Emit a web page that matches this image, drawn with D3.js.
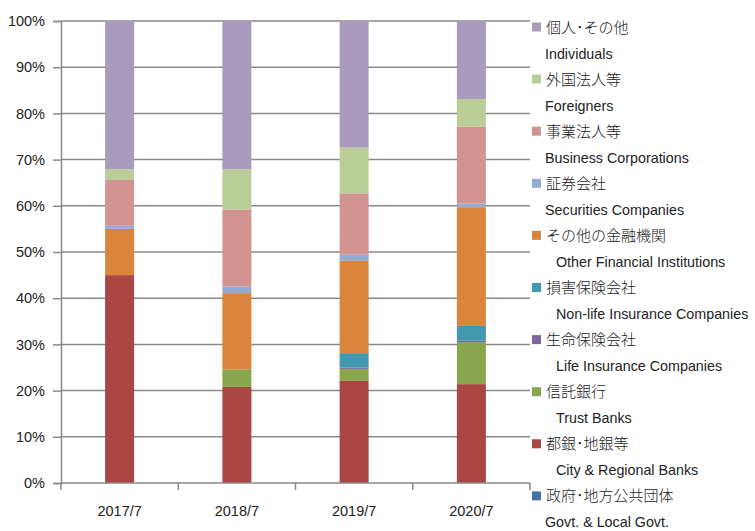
<!DOCTYPE html>
<html>
<head>
<meta charset="utf-8">
<script src="https://cdn.jsdelivr.net/npm/d3@7"></script>
<style>
  body { margin: 0; background: #fff; }
  svg { display: block; }
  text { fill: #222; }
</style>
</head>
<body>
<script>
// data (percent of shares)
var categories = ["2017/7", "2018/7", "2019/7", "2020/7"];
var govt        = [0, 0, 0, 0];
var cityBanks   = [45.0, 20.8, 22.1, 21.4];
var trustBanks  = [0, 3.8, 2.6, 9.1];
var lifeIns     = [0, 0, 0.3, 0.3];
var nonLifeIns  = [0, 0, 3.1, 3.2];
var otherFin    = [10.0, 16.5, 20.0, 25.7];
var securities  = [0.8, 1.4, 1.3, 0.8];
var business    = [9.8, 16.7, 13.3, 16.6];
var foreigners  = [2.3, 8.7, 9.9, 6.0];
var individuals = [32.1, 32.1, 27.4, 16.9];
var yTicks = [0, 0.1, 0.2, 0.3, 0.4, 0.5, 0.6, 0.7, 0.8, 0.9, 1];

// stacking order, bottom first
var series = [
  {key: "govt", jp: "政府･地方公共団体", en: "Govt. & Local Govt.", values: govt, color: "#4572A7", indent: 0},
  {key: "city", jp: "都銀･地銀等", en: "City & Regional Banks", values: cityBanks, color: "#AA4643", indent: 11},
  {key: "trust", jp: "信託銀行", en: "Trust Banks", values: trustBanks, color: "#89A54E", indent: 11},
  {key: "life", jp: "生命保険会社", en: "Life Insurance Companies", values: lifeIns, color: "#7E65A0", indent: 11},
  {key: "nonlife", jp: "損害保険会社", en: "Non-life Insurance Companies", values: nonLifeIns, color: "#4198AF", indent: 11},
  {key: "other", jp: "その他の金融機関", en: "Other Financial Institutions", values: otherFin, color: "#DB843D", indent: 11},
  {key: "sec", jp: "証券会社", en: "Securities Companies", values: securities, color: "#95ABD3", indent: 0},
  {key: "bus", jp: "事業法人等", en: "Business Corporations", values: business, color: "#D39391", indent: 0},
  {key: "for", jp: "外国法人等", en: "Foreigners", values: foreigners, color: "#BACD96", indent: 0},
  {key: "ind", jp: "個人･その他", en: "Individuals", values: individuals, color: "#A99BBD", indent: 0}
];

var W = 755, H = 531;
var margin = {left: 61, top: 21, right: 225, bottom: 48};
var plotW = W - margin.left - margin.right,
  plotH = H - margin.top - margin.bottom;
var latin = "'Liberation Sans', Arial, sans-serif";

var svg = d3.select("body").append("svg").attr("width", W).attr("height", H);
var main = svg.append("g").attr("transform", "translate(" + margin.left + "," + margin.top + ")");

var table = categories.map(function (c, i) {
  var row = {cat: c};
  series.forEach(function (s) { row[s.key] = s.values[i] / 100; });
  return row;
});
var stacked = d3.stack().keys(series.map(function (s) { return s.key; }))(table);

var x = d3.scaleBand().domain(categories).range([0, plotW]);
var y = d3.scaleLinear().domain([0, 1]).range([plotH, 0]);
var barW = 29;

// gridlines
main.append("g").selectAll("line").data(yTicks.slice(1)).enter().append("line")
  .attr("x1", 0).attr("x2", plotW)
  .attr("y1", function (d) { return y(d); }).attr("y2", function (d) { return y(d); })
  .attr("stroke", "#8a8a8a").attr("stroke-width", 1.5);

// bars
var colorOf = {};
series.forEach(function (s) { colorOf[s.key] = s.color; });
var layers = main.append("g").selectAll("g").data(stacked).enter().append("g")
  .attr("fill", function (d) { return colorOf[d.key]; });
layers.selectAll("rect").data(function (d) { return d; }).enter().append("rect")
  .attr("x", function (d) { return x(d.data.cat) + x.bandwidth() / 2 - barW / 2; })
  .attr("width", barW)
  .attr("y", function (d) { return y(d[1]); })
  .attr("height", function (d) { return y(d[0]) - y(d[1]); });

// y axis
var yAxis = main.append("g")
  .call(d3.axisLeft(y).tickValues(yTicks).tickFormat(d3.format(".0%")).tickSize(8).tickPadding(8));
yAxis.selectAll("line, path").attr("stroke", "#8a8a8a").attr("stroke-width", 1.5);
yAxis.selectAll("text").attr("font-family", latin)
  .attr("font-size", 14.5).attr("fill", "#222");

// x axis
var xg = main.append("g").attr("transform", "translate(0," + plotH + ")");
xg.append("line").attr("x1", 0).attr("x2", plotW).attr("stroke", "#8a8a8a").attr("stroke-width", 1.5);
var bounds = categories.map(function (c) { return x(c); }).concat([plotW]);
xg.selectAll(".tk").data(bounds).enter().append("line").attr("class", "tk")
  .attr("x1", function (d) { return d; }).attr("x2", function (d) { return d; })
  .attr("y1", 0).attr("y2", 7).attr("stroke", "#8a8a8a").attr("stroke-width", 1.5);
xg.selectAll("text").data(categories).enter().append("text")
  .attr("x", function (d) { return x(d) + x.bandwidth() / 2; })
  .attr("y", 33).attr("text-anchor", "middle")
  .attr("font-family", latin)
  .attr("font-size", 14.5).text(function (d) { return d; });

// legend, top entry first
var legend = svg.append("g").attr("transform", "translate(532,0)");
var items = legend.selectAll("g").data(series.slice().reverse()).enter().append("g")
  .attr("transform", function (d, i) { return "translate(0," + (27 + i * 52.1) + ")"; });
items.append("rect").attr("x", 0).attr("y", -4.5).attr("width", 9).attr("height", 9)
  .attr("fill", function (d) { return d.color; });
items.append("text").attr("x", 14).attr("y", 5.5)
  .attr("font-family", "'Noto Sans CJK JP', sans-serif").attr("font-size", 15)
  .attr("font-weight", 300)
  .text(function (d) { return d.jp; });
items.append("text").attr("x", function (d) { return 13 + d.indent; }).attr("y", 31.5)
  .attr("font-family", latin)
  .attr("font-size", 14.3)
  .text(function (d) { return d.en; });
</script>
</body>
</html>
